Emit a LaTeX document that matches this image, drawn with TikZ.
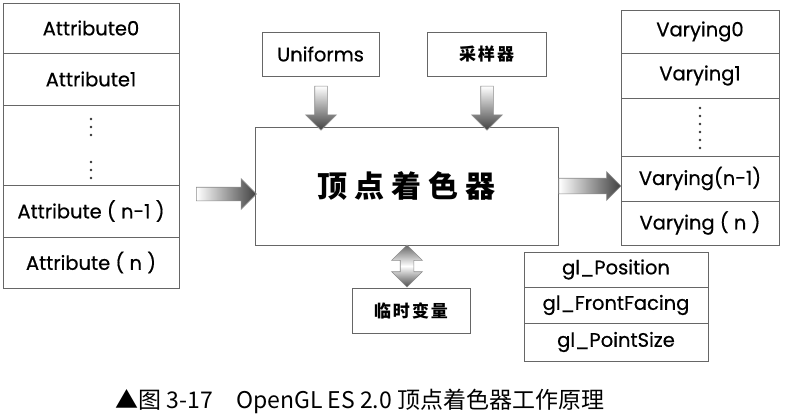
\documentclass[tikz,border=0pt]{standalone}
\usepackage{fontspec}
\setmainfont{Poppins}[FakeBold=0.6]
\newfontfamily\cjk{Noto Sans CJK SC}
\usetikzlibrary{shapes.arrows}

\begin{document}
\begin{tikzpicture}[x=1pt,y=-1pt]
\tikzstyle{box}=[draw=black!60, line width=1pt, inner sep=0pt, font=\fontsize{19.5}{22}\selectfont]
\tikzstyle{flow}=[single arrow, draw=black!45, line width=0.6pt, inner sep=6.5pt, single arrow head extend=8.5pt]
\tikzstyle{dot}=[circle, fill=black!80, inner sep=0pt, minimum size=2.6pt]
\useasboundingbox (0,0) rectangle (786,416);

\foreach \t/\y/\h [count=\i] in {Attribute0/28/50, Attribute1/79/52, {}/145/80, {Attribute ( n-1 )}/211/52, {Attribute ( n )}/262.5/51} {
\node[box, minimum width=176pt, minimum height=\h pt] (a\i) at (91,\y) {\t};
}
\foreach \y in {119,127,135,162,170,178} {
\node[dot] (ad\y) at (91,\y) {};
}

\foreach \t/\y/\h [count=\i] in {Varying0/31.5/43, Varying1/75.5/45, {}/127/58, Varying(n-1)/178.5/45, {Varying ( n )}/223/44} {
\node[box, minimum width=158pt, minimum height=\h pt] (v\i) at (700,\y) {\t};
}
\foreach \y in {108,116,124,132,140,148} {
\node[dot] (vd\y) at (700,\y) {};
}

\foreach \t/\y/\h [count=\i] in {gl\_Position/269.5/35, gl\_FrontFacing/305/36, gl\_PointSize/342/38} {
\node[box, minimum width=184pt, minimum height=\h pt] (g\i) at (616,\y) {\t};
}

\node[box, minimum width=303pt, minimum height=118pt, font=\cjk\bfseries\fontsize{30}{34}\selectfont] (main) at (406.5,186) {顶\hskip7pt 点\hskip7pt 着\hskip7pt 色\hskip7pt 器};
\node[box, minimum width=117pt, minimum height=44pt] (uni) at (320.5,54) {Uniforms};
\node[box, minimum width=119pt, minimum height=44pt, font=\cjk\bfseries\fontsize{17}{20}\selectfont] (samp) at (486.5,54) {采\hskip2pt 样\hskip2pt 器};
\node[box, minimum width=118pt, minimum height=45pt, font=\cjk\bfseries\fontsize{17}{20}\selectfont] (temp) at (411,310.5) {临\hskip2pt 时\hskip2pt 变\hskip2pt 量};

\node[flow, left color=white, right color=black!75, minimum height=60pt] (inarr) at (223,194) {};
\node[flow, left color=white, right color=black!75, minimum height=62pt, inner sep=7.5pt, single arrow head extend=6.5pt] (outarr) at (586,186) {};
\node[flow, shape border rotate=270, top color=white, bottom color=black!75, minimum height=44pt, inner sep=6pt, single arrow head extend=9pt] (uarr) at (321,105) {};
\node[flow, shape border rotate=270, top color=white, bottom color=black!75, minimum height=44pt, inner sep=6pt, single arrow head extend=9pt] (sarr) at (487,105) {};
\node[double arrow, draw=black!45, line width=0.6pt, inner sep=6.5pt, double arrow head extend=8.5pt, shape border rotate=90, top color=black!60, bottom color=black!70, middle color=white, minimum height=42pt] (tarr) at (407,266) {};

\node[font=\cjk\fontsize{23}{26}\selectfont] (caption) at (360,401) {▲图 3-17\quad OpenGL ES 2.0 顶点着色器工作原理};
\end{tikzpicture}
\end{document}
